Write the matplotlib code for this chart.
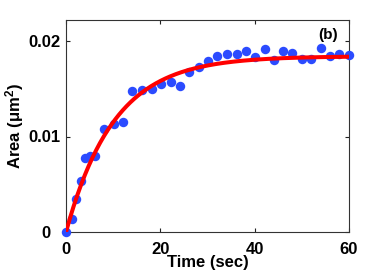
import numpy as np
import matplotlib
matplotlib.use("Agg")
import matplotlib.pyplot as plt
import matplotlib.transforms as mtransforms

# measured area vs time
time_s = [0, 1.3, 2.1, 3.2, 4.0, 5.1, 6.1, 8.1, 10.2, 12.1, 14.1, 16.2, 18.2, 20.2,
          22.2, 24.2, 26.1, 28.1, 30.1, 32.1, 34.2, 36.2, 38.1, 40.1, 42.1, 44.1,
          46.0, 48.0, 50.0, 52.0, 54.0, 55.9, 57.9, 60.0]
area = [0, 0.00136, 0.00346, 0.0053, 0.0078, 0.0080, 0.0080, 0.0108, 0.0113, 0.01155,
        0.0148, 0.0149, 0.0150, 0.0155, 0.0157, 0.0153, 0.0167, 0.0173, 0.0179,
        0.0184, 0.0186, 0.0186, 0.0189, 0.0183, 0.0192, 0.0180, 0.0189, 0.0187,
        0.0181, 0.0181, 0.0193, 0.0184, 0.0186, 0.0185]

# exponential fit  A * (1 - exp(-t / tau))
fit_A = 0.0184
fit_tau = 10.2

plt.rcParams['font.family'] = ['Liberation Sans', 'DejaVu Sans']
plt.rcParams['mathtext.fontset'] = 'custom'
plt.rcParams['mathtext.rm'] = 'Liberation Sans:bold'
plt.rcParams['mathtext.default'] = 'rm'

fig = plt.figure(figsize=(3.86, 2.73), dpi=100)
ax = fig.add_axes([0.171, 0.150, 0.733, 0.777])

ax.plot(time_s, area, 'o', color='#2b4bff', markersize=6.8, markeredgewidth=0,
        clip_on=False, zorder=3)
t_fit = np.linspace(0, 60, 300)
ax.plot(t_fit, fit_A * (1 - np.exp(-t_fit / fit_tau)), color='#ff0000',
        linewidth=2.9, zorder=4)

ax.set_xlim(0, 60)
ax.set_ylim(0, 0.0222)
ax.set_xticks([0, 20, 40, 60])
ax.set_yticks([0, 0.01, 0.02])
ax.set_yticklabels(['0', '0.01', '0.02'])

ax.tick_params(direction='in', top=True, right=True, length=3, width=0.8,
               labelsize=12, colors='#222222')
ax.tick_params(axis='x', pad=7)
ax.tick_params(axis='y', pad=4)
for lab in ax.get_xticklabels() + ax.get_yticklabels():
    lab.set_fontweight('bold')
    lab.set_color('black')
for spine in ax.spines.values():
    spine.set_color('#333333')
    spine.set_linewidth(0.8)

# MATLAB style: zero label on y sits further left
zero_lab = ax.get_yticklabels()[0]
zero_lab.set_transform(zero_lab.get_transform() +
                       mtransforms.ScaledTranslation(-0.1, 0, fig.dpi_scale_trans))

ax.set_xlabel('Time (sec)', fontsize=12, fontweight='bold', labelpad=-1)
ax.set_ylabel('Area (μm$^2$)', fontsize=12, fontweight='bold', labelpad=2)
ax.text(0.96, 0.93, '(b)', transform=ax.transAxes, fontsize=11,
        fontweight='bold', ha='right', va='center')

fig.savefig('out.png', dpi=100)
